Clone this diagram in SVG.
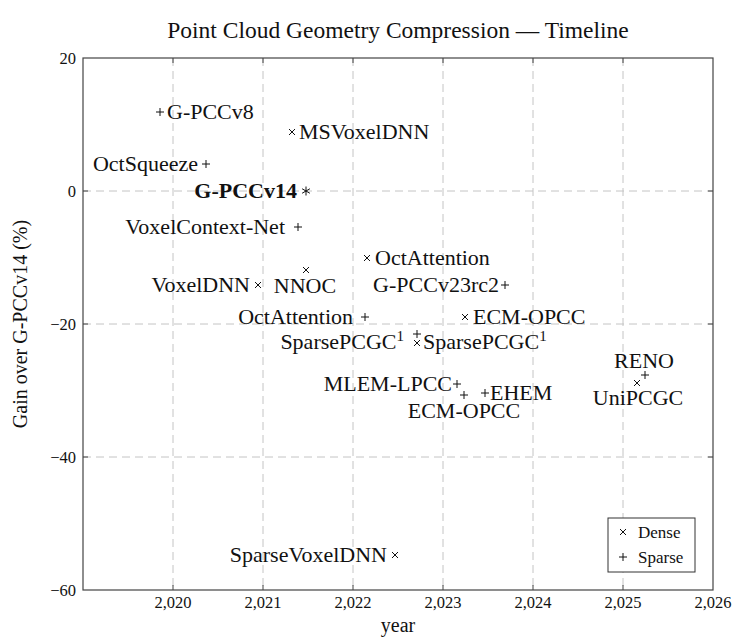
<svg xmlns="http://www.w3.org/2000/svg" xmlns:xlink="http://www.w3.org/1999/xlink" width="734" height="639" viewBox="0 0 734 639">
<style>
text{font-family:"Liberation Serif","DejaVu Serif",serif;fill:#111}
.lbl{font-size:22px}
.tick{font-size:16.5px}
.ax{font-size:20px}
.grid{stroke:#c4c4c4;stroke-width:1;stroke-dasharray:8 5;fill:none}
.frame{stroke:#444;stroke-width:1.2;fill:none}
.tk{stroke:#444;stroke-width:1;fill:none}
.mk{stroke:#111;stroke-width:1;fill:none}
.sup{font-size:15px}
</style>
<defs>
<path id="mx" class="mk" d="M-3,-3L3,3M-3,3L3,-3"/>
<path id="mp" class="mk" d="M-4,0H4M0,-4V4"/>
<path id="ma" class="mk" d="M0,-4.5V4.5M-3.9,-2.25L3.9,2.25M-3.9,2.25L3.9,-2.25"/>
</defs>
<rect width="734" height="639" fill="#fff"/>
<text x="398" y="38" font-size="23.5" text-anchor="middle">Point Cloud Geometry Compression — Timeline</text>
<g id="axes">
<path class="grid" d="M173,58V590M263,58V590M353,58V590M443,58V590M533,58V590M623,58V590M83,191H713M83,324H713M83,457H713"/>
<path class="tk" d="M173,590v-5M263,590v-5M353,590v-5M443,590v-5M533,590v-5M623,590v-5M173,58v5M263,58v5M353,58v5M443,58v5M533,58v5M623,58v5M83,191h5M83,324h5M83,457h5M713,191h-5M713,324h-5M713,457h-5"/>
<rect class="frame" x="83" y="58" width="630" height="532"/>
<g class="tick" text-anchor="middle">
<text x="173" y="608">2,020</text>
<text x="263" y="608">2,021</text>
<text x="353" y="608">2,022</text>
<text x="443" y="608">2,023</text>
<text x="533" y="608">2,024</text>
<text x="623" y="608">2,025</text>
<text x="713" y="608">2,026</text>
</g>
<g class="tick" text-anchor="end">
<text x="76" y="64">20</text>
<text x="76" y="197">0</text>
<text x="76" y="330">−20</text>
<text x="76" y="463">−40</text>
<text x="76" y="596">−60</text>
</g>
<text class="ax" x="398" y="632" text-anchor="middle">year</text>
<text class="ax" transform="translate(27,324) rotate(-90)" text-anchor="middle">Gain over G-PCCv14 (%)</text>
</g>
<g id="connectors"></g>
<g id="n-gpccv8"><use xlink:href="#mp" x="160" y="112"/><text class="lbl" x="167" y="119">G-PCCv8</text></g>
<g id="n-msvoxeldnn"><use xlink:href="#mx" x="292" y="132"/><text class="lbl" x="299" y="139">MSVoxelDNN</text></g>
<g id="n-octsqueeze"><use xlink:href="#mp" x="206" y="164"/><text class="lbl" x="198" y="171" text-anchor="end">OctSqueeze</text></g>
<g id="n-gpccv14"><use xlink:href="#ma" x="306" y="191"/><text class="lbl" x="297" y="198" text-anchor="end" font-weight="bold">G-PCCv14</text></g>
<g id="n-voxelcontext"><use xlink:href="#mp" x="298" y="227"/><text class="lbl" x="285" y="234" text-anchor="end">VoxelContext-Net</text></g>
<g id="n-voxeldnn"><use xlink:href="#mx" x="258" y="285"/><text class="lbl" x="250" y="292" text-anchor="end">VoxelDNN</text></g>
<g id="n-nnoc"><use xlink:href="#mx" x="306" y="270"/><text class="lbl" x="305" y="293" text-anchor="middle">NNOC</text></g>
<g id="n-octattention-d"><use xlink:href="#mx" x="367" y="258"/><text class="lbl" x="375" y="265">OctAttention</text></g>
<g id="n-gpccv23"><use xlink:href="#mp" x="505" y="285"/><text class="lbl" x="499" y="292" text-anchor="end">G-PCCv23rc2</text></g>
<g id="n-octattention-s"><use xlink:href="#mp" x="365" y="317"/><text class="lbl" x="353" y="324" text-anchor="end">OctAttention</text></g>
<g id="n-ecmopcc-d"><use xlink:href="#mx" x="465" y="317"/><text class="lbl" x="473" y="324">ECM-OPCC</text></g>
<g id="n-sparsepcgc-s"><use xlink:href="#mp" x="417" y="334"/><text class="lbl" x="404" y="349" text-anchor="end">SparsePCGC<tspan class="sup" dy="-8">1</tspan></text></g>
<g id="n-sparsepcgc-d"><use xlink:href="#mx" x="417" y="343"/><text class="lbl" x="423" y="349">SparsePCGC<tspan class="sup" dy="-8">1</tspan></text></g>
<g id="n-mlemlpcc"><use xlink:href="#mp" x="457" y="384"/><text class="lbl" x="452" y="391" text-anchor="end">MLEM-LPCC</text></g>
<g id="n-ecmopcc-s"><use xlink:href="#mp" x="464" y="395"/><text class="lbl" x="464" y="418" text-anchor="middle">ECM-OPCC</text></g>
<g id="n-ehem"><use xlink:href="#mp" x="485" y="393"/><text class="lbl" x="490" y="400">EHEM</text></g>
<g id="n-reno"><use xlink:href="#mp" x="645" y="375"/><text class="lbl" x="644" y="368" text-anchor="middle">RENO</text></g>
<g id="n-unipcgc"><use xlink:href="#mx" x="637" y="383"/><text class="lbl" x="638" y="405" text-anchor="middle">UniPCGC</text></g>
<g id="n-sparsevoxeldnn"><use xlink:href="#mx" x="395" y="555"/><text class="lbl" x="387" y="562" text-anchor="end">SparseVoxelDNN</text></g>
<g id="legend">
<rect x="608" y="518" width="87" height="54" fill="#fff" stroke="#333" stroke-width="1"/>
<use xlink:href="#mx" x="623" y="532"/><text x="638" y="538" font-size="17">Dense</text>
<use xlink:href="#mp" x="623" y="557"/><text x="638" y="563" font-size="17">Sparse</text>
</g>
</svg>
